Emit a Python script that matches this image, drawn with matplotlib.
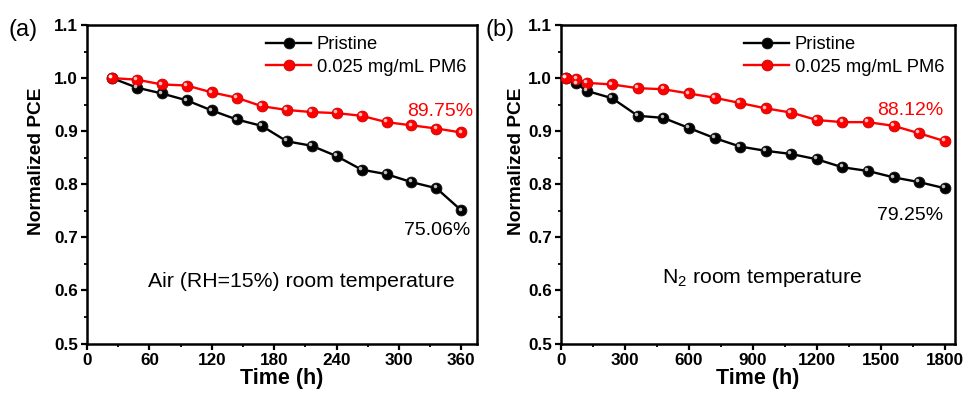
import matplotlib
matplotlib.use("Agg")
import matplotlib.pyplot as plt
import matplotlib.transforms as mtrans
from matplotlib.ticker import MultipleLocator

plt.rcParams['font.family'] = ['Liberation Sans', 'DejaVu Sans']
plt.rcParams['font.weight'] = 'bold'
plt.rcParams['mathtext.fontset'] = 'custom'
plt.rcParams['mathtext.rm'] = 'Liberation Sans:weight=normal'
plt.rcParams['mathtext.default'] = 'rm'

# ---- data ----
time_a = [24, 48, 72, 96, 120, 144, 168, 192, 216, 240, 264, 288, 312, 336, 360]
pristine_a = [1.0, 0.982, 0.971, 0.958, 0.939, 0.922, 0.910, 0.881, 0.8725, 0.853,
              0.8275, 0.819, 0.804, 0.7925, 0.7506]
pm6_a = [1.0, 0.997, 0.988, 0.986, 0.973, 0.963, 0.947, 0.940, 0.936, 0.934,
         0.929, 0.917, 0.911, 0.905, 0.8975]

time_b = [24, 72, 120, 240, 360, 480, 600, 720, 840, 960, 1080, 1200, 1320, 1440,
          1560, 1680, 1800]
pristine_b = [1.0, 0.990, 0.976, 0.962, 0.929, 0.925, 0.906, 0.887, 0.871, 0.863,
              0.857, 0.847, 0.832, 0.825, 0.813, 0.804, 0.7925]
pm6_b = [1.0, 0.999, 0.991, 0.988, 0.981, 0.979, 0.971, 0.963, 0.953, 0.943,
         0.935, 0.921, 0.917, 0.917, 0.910, 0.896, 0.8812]

series_labels = ["Pristine", "0.025 mg/mL PM6"]
panel_labels = ["(a)", "(b)"]
conditions = ["Air (RH=15%) room temperature", "N$_2$ room temperature"]
end_labels_a = ["75.06%", "89.75%"]
end_labels_b = ["79.25%", "88.12%"]

W, H = 966, 401
fig = plt.figure(figsize=(W / 100, H / 100), dpi=100)


def px_axes(l, r, t, b):
    return fig.add_axes([l / W, 1 - b / H, (r - l) / W, (b - t) / H])


def sphere_plot(ax, x, y, color, edge, label):
    ax.plot(x, y, '-', color=color, lw=1.7, marker='o', ms=7.8,
            mfc=color, mec=edge, mew=0.6, label=label, zorder=3)
    off = mtrans.ScaledTranslation(-1.3 / 72, 1.3 / 72, fig.dpi_scale_trans)
    ax.plot(x, y, 'o', ms=2.6, mfc='white', mec='none', alpha=0.75,
            transform=ax.transData + off, zorder=4)


def style_axes(ax, xmax, xmajor, xminor, ylab_x):
    ax.set_xlim(0, xmax)
    ax.set_ylim(0.5, 1.1)
    ax.xaxis.set_major_locator(MultipleLocator(xmajor))
    ax.xaxis.set_minor_locator(MultipleLocator(xminor))
    ax.yaxis.set_major_locator(MultipleLocator(0.1))
    ax.yaxis.set_minor_locator(MultipleLocator(0.05))
    ax.yaxis.set_major_formatter(plt.FuncFormatter(lambda v, p: f"{v:.1f}"))
    for s in ax.spines.values():
        s.set_linewidth(1.8)
    ax.tick_params(which='major', direction='out', length=4.5, width=1.6,
                   labelsize=12.3, pad=2)
    ax.tick_params(which='minor', direction='out', length=2.5, width=1.3)
    ax.set_xlabel("Time (h)", fontsize=15.5, fontweight='bold', labelpad=0)
    ax.set_ylabel("Normalized PCE", fontsize=13.8, fontweight='bold')
    ax.yaxis.set_label_coords(ylab_x, 0.571)


# ---- panel (a) ----
ax1 = px_axes(87, 477, 25, 343.5)
sphere_plot(ax1, time_a, pristine_a, 'black', '#111111', series_labels[0])
sphere_plot(ax1, time_a, pm6_a, '#ff0000', '#cc0000', series_labels[1])
style_axes(ax1, 375, 60, 30, -0.107)

# ---- panel (b) ----
ax2 = px_axes(561, 955, 25, 343.5)
sphere_plot(ax2, time_b, pristine_b, 'black', '#111111', series_labels[0])
sphere_plot(ax2, time_b, pm6_b, '#ff0000', '#cc0000', series_labels[1])
style_axes(ax2, 1848, 300, 150, -0.092)

for ax in (ax1, ax2):
    h, l = ax.get_legend_handles_labels()
    leg = ax.legend(h[:2], l[:2], loc='upper right', frameon=False,
                    prop={'size': 13.2, 'weight': 'normal'},
                    handlelength=2.45, handletextpad=0.3, labelspacing=0.3,
                    borderaxespad=0.2, bbox_to_anchor=(1.0, 1.0))

txt = dict(va='center', fontsize=14, fontweight='normal')
ax1.text(0.99, 0.728, end_labels_a[1], transform=ax1.transAxes, ha='right',
         color='#ff0000', **txt)
ax1.text(0.982, 0.356, end_labels_a[0], transform=ax1.transAxes, ha='right',
         color='black', **txt)
ax1.text(0.156, 0.194, conditions[0], transform=ax1.transAxes, ha='left',
         va='center', fontsize=15.3, fontweight='normal')

ax2.text(0.97, 0.733, end_labels_b[1], transform=ax2.transAxes, ha='right',
         color='#ff0000', **txt)
ax2.text(0.97, 0.403, end_labels_b[0], transform=ax2.transAxes, ha='right',
         color='black', **txt)
ax2.text(0.256, 0.206, conditions[1], transform=ax2.transAxes, ha='left',
         va='center', fontsize=15.3, fontweight='normal')

fig.text(9 / W, 1 - 30 / H, panel_labels[0], fontsize=17, fontweight='normal',
         ha='left', va='center')
fig.text(485 / W, 1 - 30 / H, panel_labels[1], fontsize=17, fontweight='normal',
         ha='left', va='center')

fig.savefig("out.png", dpi=100)
